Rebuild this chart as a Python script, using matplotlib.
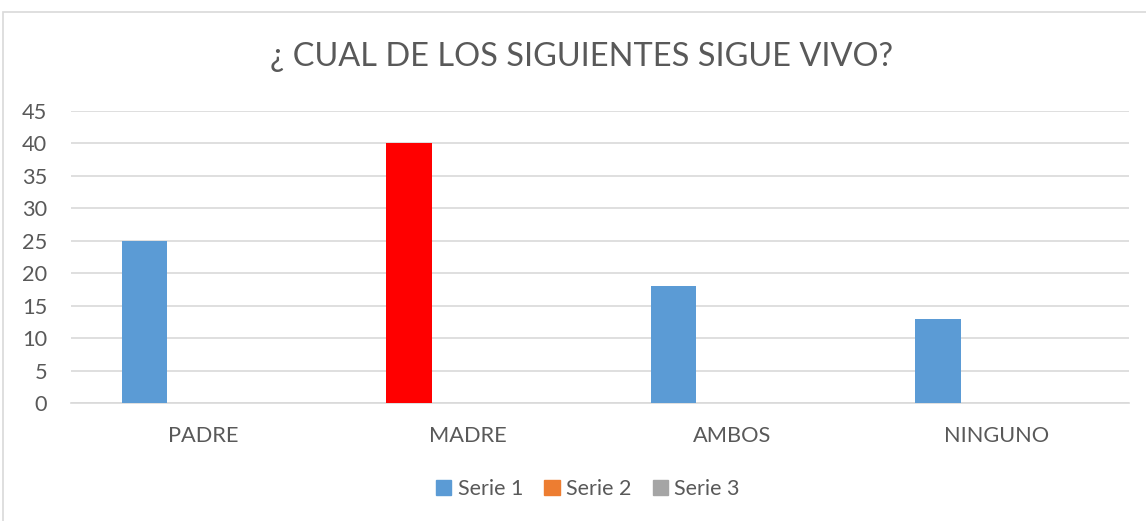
import matplotlib
matplotlib.use("Agg")
import matplotlib.pyplot as plt
from matplotlib.patches import Rectangle
import numpy as np

categories = ["PADRE", "MADRE", "AMBOS", "NINGUNO"]
serie1 = [25, 40, 18, 13]
serie2 = [0, 0, 0, 0]
serie3 = [0, 0, 0, 0]
series_names = ["Serie 1", "Serie 2", "Serie 3"]
title = "¿ CUAL DE LOS SIGUIENTES SIGUE VIVO?"
yticks = list(range(0, 50, 5))

plt.rcParams['font.family'] = ['Lato', 'DejaVu Sans']

fig = plt.figure(figsize=(11.46, 5.21), dpi=100)
W, H = 1146, 521
# chart border
fig.patches.append(Rectangle((3 / W, -0.1), 1.2, (H - 12) / H + 0.1, transform=fig.transFigure,
                             fill=False, edgecolor='#d9d9d9', linewidth=1.2))

left, right, top, bottom = 70.7, 1129, 110.7, 403.3
ax = fig.add_axes([left / W, 1 - bottom / H, (right - left) / W, (bottom - top) / H])

x = np.arange(len(categories))
w = 0.172
d = 0.2215
colors1 = ['#5b9bd5', '#ff0000', '#5b9bd5', '#5b9bd5']
ax.bar(x - d, serie1, w, color=colors1, zorder=3)
ax.bar(x, serie2, w, color='#ed7d31', zorder=3)
ax.bar(x + d, serie3, w, color='#a5a5a5', zorder=3)

ax.set_xlim(-0.5, len(categories) - 0.5)
ax.set_ylim(0, 45)
ax.set_yticks(yticks)
ax.set_xticks(x)
ax.set_xticklabels(categories)
ax.grid(axis='y', color='#d9d9d9', linewidth=1.2, zorder=0)
for s in ['top', 'right', 'left']:
    ax.spines[s].set_visible(False)
ax.spines['bottom'].set_color('#d9d9d9')
ax.spines['bottom'].set_linewidth(1.2)
ax.tick_params(axis='both', length=0, colors='#595959', labelsize=15.7)
ax.tick_params(axis='y', pad=17)
ax.tick_params(axis='x', pad=16)

fig.text(582 / W, 1 - 57 / H, title, ha='center', va='center', fontsize=23.4, color='#595959')

handles = [Rectangle((0, 0), 1, 1, color=c) for c in ['#5b9bd5', '#ed7d31', '#a5a5a5']]
fig.legend(handles, series_names, loc='center', bbox_to_anchor=(588 / W, 1 - 489 / H), ncol=3,
           frameon=False, fontsize=15.5, labelcolor='#595959', handlelength=0.7, handleheight=0.7,
           handletextpad=0.3, columnspacing=1.0)

fig.savefig("out.png", dpi=100)
